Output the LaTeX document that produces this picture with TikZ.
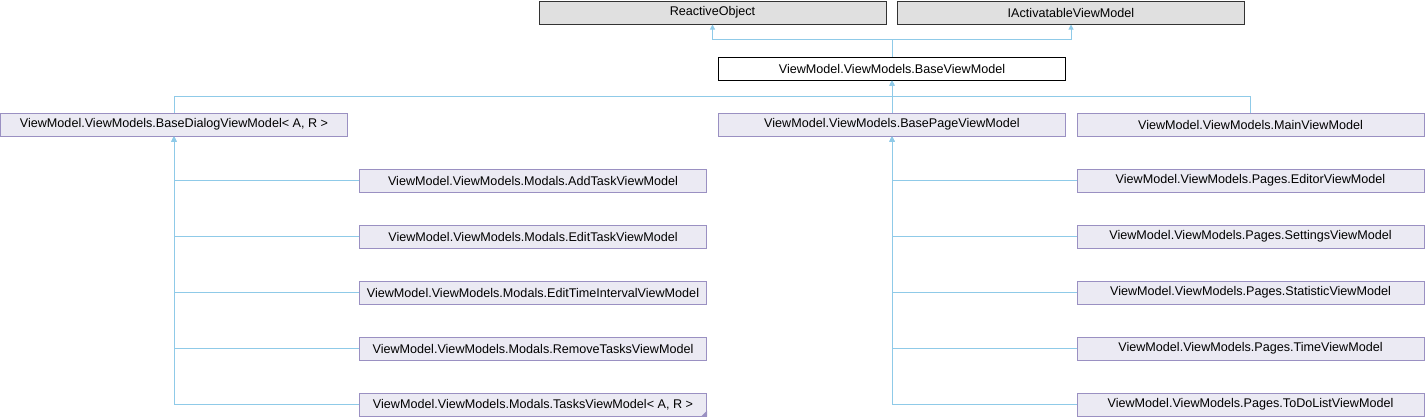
\documentclass[tikz,border=0pt]{standalone}
\usepackage{fontspec}
\setmainfont{Liberation Sans}
\usetikzlibrary{arrows.meta}

\definecolor{edgeblue}{HTML}{8FCAE8}
\definecolor{clsborder}{HTML}{9A90C2}
\definecolor{clsfill}{HTML}{EBEAF3}
\definecolor{extfill}{HTML}{E0E0E0}

\tikzset{
  cls/.style={draw=clsborder, fill=clsfill, line width=1pt, minimum width=347pt,
    minimum height=23pt, inner sep=0pt, font=\fontsize{12.6}{14}\selectfont},
  ext/.style={cls, draw=black!80, fill=extfill},
  cur/.style={cls, draw=black, fill=white},
  edge/.style={draw=edgeblue, line width=1pt, -{Triangle[length=5pt,width=5pt]}}
}

\begin{document}
\begin{tikzpicture}[x=1pt, y=-1pt]
\useasboundingbox (0,0) rectangle (1426,416);
%top
	\node[ext] (Reactive) at (712.5,12.5) {ReactiveObject};
	\node[ext] (Activatable) at (1071,12.5) {IActivatableViewModel};
	\node[cur] (Base) at (892,68.5) {ViewModel.ViewModels.BaseViewModel};

%middle
	\node[cls] (Dialog) at (174,124.5) {ViewModel.ViewModels.BaseDialogViewModel< A, R >};
	\node[cls] (Page) at (892,124.5) {ViewModel.ViewModels.BasePageViewModel};
	\node[cls] (Main) at (1250.5,124.5) {ViewModel.ViewModels.MainViewModel};

%modals, pages
	\foreach \y/\name/\txt in {180.5/AddTask/AddTaskViewModel, 236.5/EditTask/EditTaskViewModel,
		292.5/EditTime/EditTimeIntervalViewModel, 348.5/RemoveTasks/RemoveTasksViewModel}{
		\node[cls] (\name) at (533,\y) {ViewModel.ViewModels.Modals.\txt};
	}
	\node[cls] (Tasks) at (533,404.5) {ViewModel.ViewModels.Modals.TasksViewModel< A, R >};
	\fill[clsborder] (Tasks.south east) -- ++(-6,0) -- ++(6,-6) -- cycle;

	\foreach \y/\name in {180.5/Editor, 236.5/Settings, 292.5/Statistic, 348.5/Time, 404.5/ToDoList}{
		\node[cls] (\name) at (1250.5,\y) {ViewModel.ViewModels.Pages.\name ViewModel};
	}

%edges
	\draw[edge] (Base.north) -- ++(0,-17) -| (Reactive.south);
	\draw[edge] (Base.north) -- ++(0,-17) -| (Activatable.south);

	\draw[edge] (Dialog.north) -- ++(0,-16) -| (Base.south);
	\draw[edge] (Page.north) -- (Base.south);
	\draw[edge] (Main.north) -- ++(0,-16) -| (Base.south);

	\foreach \name in {AddTask, EditTask, EditTime, RemoveTasks, Tasks}
		\draw[edge] (\name.west) -| (Dialog.south);
	\foreach \name in {Editor, Settings, Statistic, Time, ToDoList}
		\draw[edge] (\name.west) -| (Page.south);

\end{tikzpicture}
\end{document}
